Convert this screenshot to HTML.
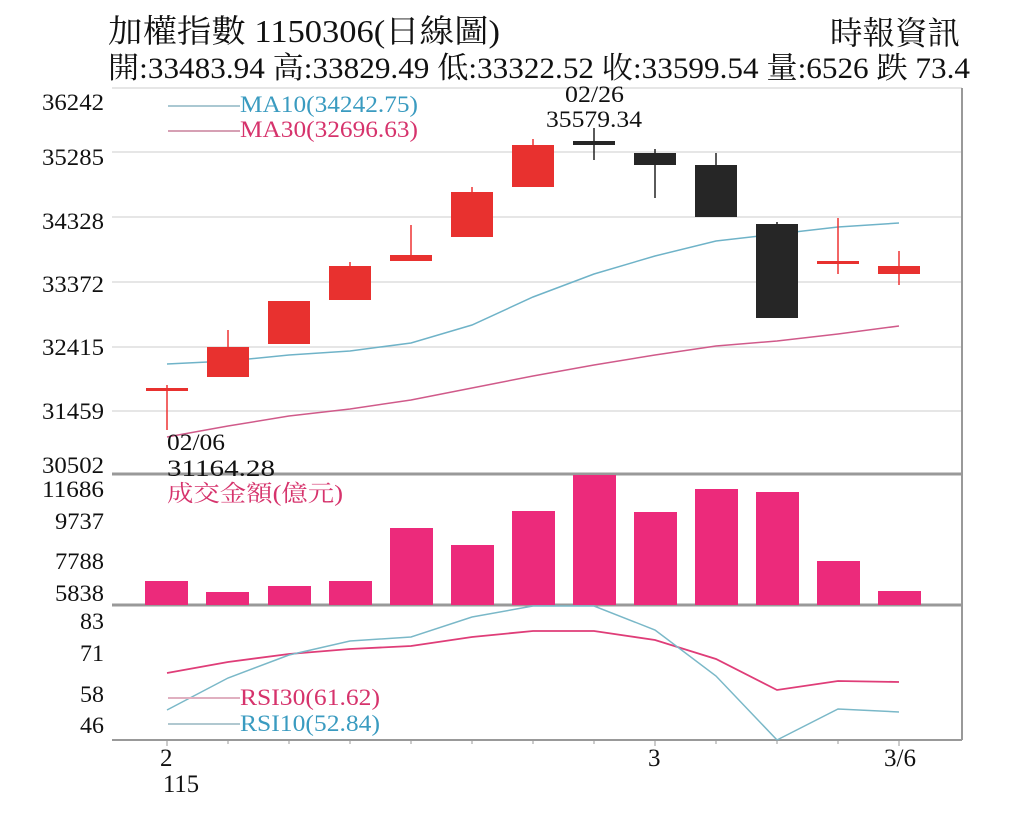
<!DOCTYPE html>
<html><head><meta charset="utf-8"><style>body{margin:0;background:#fff}svg{display:block}</style></head><body>
<svg width="1024" height="820" xmlns="http://www.w3.org/2000/svg" font-family="'Liberation Serif','Noto Serif CJK SC',serif">
<rect width="1024" height="820" fill="#fff"/>
<text x="108" y="42" font-size="32" textLength="392" lengthAdjust="spacingAndGlyphs" fill="#111">加權指數 1150306(日線圖)</text>
<text x="830" y="44" font-size="32" textLength="130" lengthAdjust="spacingAndGlyphs" fill="#111">時報資訊</text>
<text x="108" y="78" font-size="30" textLength="862" lengthAdjust="spacingAndGlyphs" fill="#111">開:33483.94 高:33829.49 低:33322.52 收:33599.54 量:6526 跌 73.4</text>
<g stroke="#ddd" stroke-width="1.5">
<line x1="112" y1="152" x2="962" y2="152"/><line x1="112" y1="217" x2="962" y2="217"/><line x1="112" y1="282" x2="962" y2="282"/><line x1="112" y1="347" x2="962" y2="347"/><line x1="112" y1="411" x2="962" y2="411"/>
</g>
<line x1="112" y1="88" x2="962" y2="88" stroke="#ccc"/>
<line x1="962" y1="88" x2="962" y2="740" stroke="#999" stroke-width="2"/>
<line x1="112" y1="474" x2="962" y2="474" stroke="#999" stroke-width="3"/>
<line x1="112" y1="605" x2="962" y2="605" stroke="#999" stroke-width="3"/>
<line x1="112" y1="740" x2="962" y2="740" stroke="#999" stroke-width="2"/>
<g font-size="23" fill="#111" lengthAdjust="spacingAndGlyphs">
<text x="42" y="110" textLength="62" lengthAdjust="spacingAndGlyphs">36242</text><text x="42" y="165" textLength="62" lengthAdjust="spacingAndGlyphs">35285</text><text x="42" y="229" textLength="62" lengthAdjust="spacingAndGlyphs">34328</text><text x="42" y="292" textLength="62" lengthAdjust="spacingAndGlyphs">33372</text><text x="42" y="355" textLength="62" lengthAdjust="spacingAndGlyphs">32415</text><text x="42" y="419" textLength="62" lengthAdjust="spacingAndGlyphs">31459</text><text x="42" y="473" textLength="62" lengthAdjust="spacingAndGlyphs">30502</text>
<text x="42" y="497" textLength="62" lengthAdjust="spacingAndGlyphs">11686</text><text x="55" y="529" textLength="49" lengthAdjust="spacingAndGlyphs">9737</text><text x="55" y="569" textLength="49" lengthAdjust="spacingAndGlyphs">7788</text><text x="55" y="601" textLength="49" lengthAdjust="spacingAndGlyphs">5838</text>
<text x="80" y="629" textLength="24" lengthAdjust="spacingAndGlyphs">83</text><text x="80" y="661" textLength="24" lengthAdjust="spacingAndGlyphs">71</text><text x="80" y="702" textLength="24" lengthAdjust="spacingAndGlyphs">58</text><text x="80" y="733" textLength="24" lengthAdjust="spacingAndGlyphs">46</text>
</g>
<polyline fill="none" stroke="#6fb3c8" stroke-width="1.5" points="167,364 228,361 289,355 350,351 411,343 472,325 533,297 594,274 655,256 716,241 777,234 838,227 899,223"/>
<polyline fill="none" stroke="#d05a8a" stroke-width="1.5" points="167,437 228,426 289,416 350,409 411,400 472,388 533,376 594,365 655,355 716,346 777,341 838,334 899,326"/>
<g stroke="#e33" stroke-width="1.5">
<line x1="167" y1="385" x2="167" y2="430"/><line x1="228" y1="330" x2="228" y2="377"/><line x1="350" y1="262" x2="350" y2="300"/><line x1="411" y1="225" x2="411" y2="261"/><line x1="472" y1="187" x2="472" y2="237"/><line x1="533" y1="139" x2="533" y2="187"/><line x1="838" y1="218" x2="838" y2="274"/><line x1="899" y1="251" x2="899" y2="285"/>
</g>
<g fill="#e8312f">
<rect x="146" y="388" width="42" height="3"/><rect x="207" y="347" width="42" height="30"/><rect x="268" y="301" width="42" height="43"/><rect x="329" y="266" width="42" height="34"/><rect x="390" y="255" width="42" height="6"/><rect x="451" y="192" width="42" height="45"/><rect x="512" y="145" width="42" height="42"/><rect x="817" y="261" width="42" height="3"/><rect x="878" y="266" width="42" height="8"/>
</g>
<g stroke="#222" stroke-width="1.5">
<line x1="594" y1="128" x2="594" y2="160"/><line x1="655" y1="149" x2="655" y2="198"/><line x1="716" y1="153" x2="716" y2="217"/><line x1="777" y1="222" x2="777" y2="318"/>
</g>
<g fill="#262626">
<rect x="573" y="141" width="42" height="4"/><rect x="634" y="153" width="42" height="12"/><rect x="695" y="165" width="42" height="52"/><rect x="756" y="224" width="42" height="94"/>
</g>
<text x="565" y="102" font-size="23" fill="#111" textLength="59" lengthAdjust="spacingAndGlyphs">02/26</text>
<text x="546" y="127" font-size="23" fill="#111" textLength="96" lengthAdjust="spacingAndGlyphs">35579.34</text>
<text x="167" y="450" font-size="23" fill="#111" textLength="58" lengthAdjust="spacingAndGlyphs">02/06</text>
<text x="167" y="476" font-size="23" fill="#111" textLength="108" lengthAdjust="spacingAndGlyphs">31164.28</text>
<line x1="168" y1="106" x2="240" y2="106" stroke="#aac8d2" stroke-width="2"/>
<text x="240" y="112" font-size="23" fill="#3a9bc0" textLength="178" lengthAdjust="spacingAndGlyphs">MA10(34242.75)</text>
<line x1="168" y1="131" x2="240" y2="131" stroke="#d6a0b4" stroke-width="2"/>
<text x="240" y="137" font-size="23" fill="#d6336c" textLength="178" lengthAdjust="spacingAndGlyphs">MA30(32696.63)</text>
<g fill="#ec2a7b">
<rect x="145" y="581" width="43" height="24"/><rect x="206" y="592" width="43" height="13"/><rect x="268" y="586" width="43" height="19"/><rect x="329" y="581" width="43" height="24"/><rect x="390" y="528" width="43" height="77"/><rect x="451" y="545" width="43" height="60"/><rect x="512" y="511" width="43" height="94"/><rect x="573" y="475" width="43" height="130"/><rect x="634" y="512" width="43" height="93"/><rect x="695" y="489" width="43" height="116"/><rect x="756" y="492" width="43" height="113"/><rect x="817" y="561" width="43" height="44"/><rect x="878" y="591" width="43" height="14"/>
</g>
<text x="167" y="501" font-size="23" fill="#d6336c" textLength="176" lengthAdjust="spacingAndGlyphs">成交金額(億元)</text>
<polyline fill="none" stroke="#df3d78" stroke-width="1.8" points="167,673 228,662 289,654 350,649 411,646 472,637 533,631 594,631 655,640 716,659 777,690 838,681 899,682"/>
<polyline fill="none" stroke="#7ab8c8" stroke-width="1.5" points="167,710 228,678 289,655 350,641 411,637 472,617 533,606 594,606 655,630 716,676 777,740 838,709 899,712"/>
<line x1="168" y1="698" x2="240" y2="698" stroke="#e0b0c0" stroke-width="2"/>
<text x="240" y="705" font-size="23" fill="#d6336c" textLength="140" lengthAdjust="spacingAndGlyphs">RSI30(61.62)</text>
<line x1="168" y1="724" x2="240" y2="724" stroke="#b0c8d0" stroke-width="2"/>
<text x="240" y="731" font-size="23" fill="#3a9bc0" textLength="140" lengthAdjust="spacingAndGlyphs">RSI10(52.84)</text>
<g stroke="#999" stroke-width="1">
<line x1="167" y1="740" x2="167" y2="746"/><line x1="228" y1="740" x2="228" y2="744"/><line x1="289" y1="740" x2="289" y2="744"/><line x1="350" y1="740" x2="350" y2="744"/><line x1="411" y1="740" x2="411" y2="744"/><line x1="472" y1="740" x2="472" y2="744"/><line x1="533" y1="740" x2="533" y2="744"/><line x1="594" y1="740" x2="594" y2="744"/><line x1="655" y1="740" x2="655" y2="746"/><line x1="716" y1="740" x2="716" y2="744"/><line x1="777" y1="740" x2="777" y2="744"/><line x1="838" y1="740" x2="838" y2="744"/><line x1="899" y1="740" x2="899" y2="746"/>
</g>
<g font-size="25" fill="#111">
<text x="160" y="766">2</text><text x="163" y="792" textLength="36" lengthAdjust="spacingAndGlyphs">115</text><text x="648" y="766">3</text><text x="884" y="766" textLength="32" lengthAdjust="spacingAndGlyphs">3/6</text>
</g>
</svg>
</body></html>
